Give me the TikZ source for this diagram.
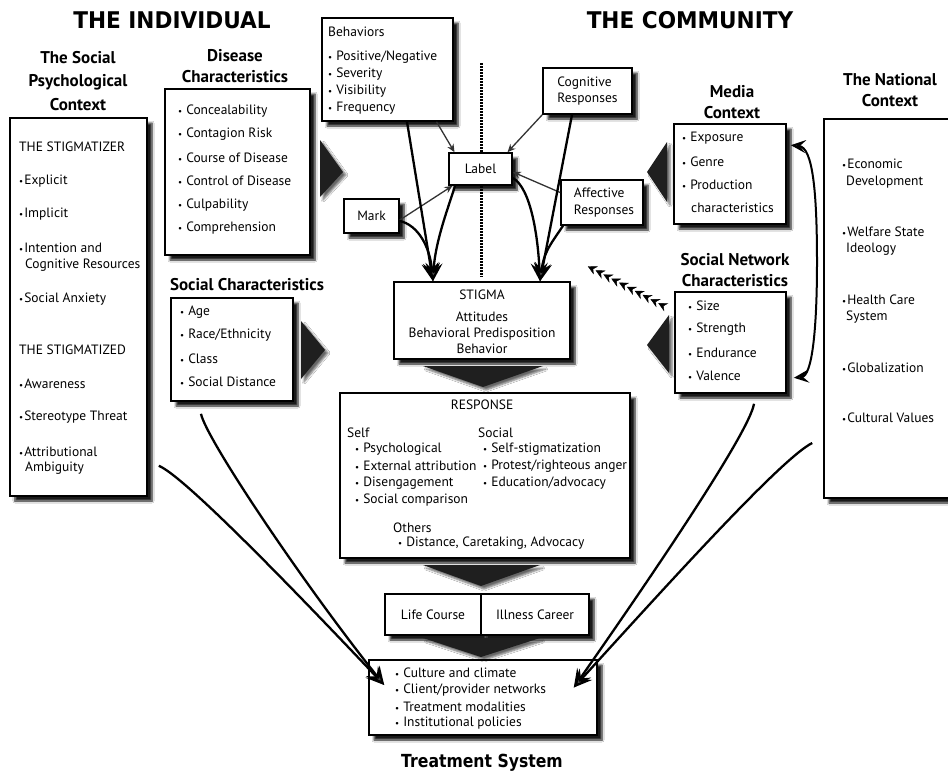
\documentclass[tikz,border=0pt]{standalone}
\usepackage{fontspec}
\setmainfont{PT Sans}
\newfontfamily\heavyfont{DejaVu Sans}
\usetikzlibrary{shadows.blur,arrows.meta,fit,decorations.markings}
\newcommand\bl{{\fontsize{9}{9}\selectfont\textbullet}\hspace{4pt}}
\newcommand\bt{{\fontsize{9}{9}\selectfont\textbullet}\hspace{1pt}}
\begin{document}
\begin{tikzpicture}[x=1pt,y=-1pt,
  box/.style={draw, line width=1.6pt, fill=white, inner sep=0pt,
    blur shadow={shadow xshift=5pt,shadow yshift=-5pt,shadow blur steps=6,shadow opacity=90}},
  txt/.style={anchor=west, inner sep=0pt, font=\fontsize{13.5}{16}\selectfont},
  ctxt/.style={inner sep=0pt, align=center, font=\fontsize{13.5}{16}\selectfont},
  ltxt/.style={inner sep=0pt, align=left, font=\fontsize{13.5}{16.5}\selectfont},
  ttl/.style={inner sep=0pt, align=center, font=\bfseries\fontsize{17}{21}\selectfont},
  head/.style={inner sep=0pt, font=\heavyfont\bfseries\fontsize{23}{26}\selectfont},
  tri/.style={fill=black!88, blur shadow={shadow xshift=3pt,shadow yshift=-3pt,shadow blur steps=5,shadow opacity=60}},
  big/.style={line width=2.3pt, -{Stealth[length=18pt,width=17pt,inset=7pt]}},
  thin/.style={line width=1.3pt, draw=black!80, -{Stealth[length=8pt,width=7pt]}},
  dbl/.style={line width=2pt, {Stealth[length=15pt,width=13pt,inset=6pt]}-{Stealth[length=15pt,width=13pt,inset=6pt]}}
]
\useasboundingbox (0,0) rectangle (948,777);
\fill[white] (0,0) rectangle (948,777);

% headings
\node[head] (hind) at (172,20) {\scalebox{0.94}[1]{THE INDIVIDUAL}};
\node[head] (hcom) at (690,20) {\scalebox{0.94}[1]{THE COMMUNITY}};

% dotted divider
\coordinate (dtop) at (481,63);
\coordinate (dbot) at (481,277);
\draw[line width=3pt, dash pattern=on 2pt off 1pt] (dtop) -- (dbot);

% titles
\node[ttl, font=\bfseries\fontsize{17}{23.5}\selectfont] (tspc) at (78,81) {The Social\\Psychological\\Context};
\node[ttl] (tdis) at (235,66) {Disease\\Characteristics};
\node[ttl] (tsoc) at (247,285) {Social Characteristics};
\node[ttl] (tmed) at (732,102) {Media\\Context};
\node[ttl] (tsn) at (735,270) {Social Network\\Characteristics};
\node[ttl] (tnat) at (890,90) {The National\\Context};
\node[head, font=\heavyfont\bfseries\fontsize{18}{20}\selectfont] (ttreat) at (482,763) {\scalebox{0.87}[1]{Treatment System}};

% boxes
\node[box, fit={(10,118) (147,496)}] (spc) {};
\node[box, fit={(165,89) (310,255)}] (dis) {};
\node[box, fit={(322,18) (453,121)}] (beh) {};
\node[box, fit={(344,199) (399,233)}] (mark) {};
\node[box, fit={(449,153) (512,185)}] (label) {};
\node[box, fit={(543,68) (632,114)}] (cog) {};
\node[box, fit={(561,180) (643,225)}] (aff) {};
\node[box, fit={(674,124) (786,224)}] (media) {};
\node[box, fit={(824,119) (965,498)}] (nat) {};
\node[box, fit={(394,282) (570,359)}] (stigma) {};
\node[box, fit={(340,393) (630,558)}] (resp) {};
\node[box, fit={(171,298) (293,401)}] (soc) {};
\node[box, fit={(675,292) (786,393)}] (sn) {};
\node[box, fit={(385,594) (481,635)}] (life) {};
\node[box, fit={(481,594) (589,635)}] (ill) {};
\node[box, fit={(369,660) (597,735)}] (treat) {};

% small box texts
\node[ctxt] (markt) at (mark.center) {Mark};
\node[ctxt] (labelt) at (label.center) {Label};
\node[ltxt] (cogt) at (cog.center) {Cognitive\\Responses};
\node[ltxt] (afft) at ([xshift=2pt]aff.center) {Affective\\Responses};
\node[ctxt] (lifet) at (life.center) {Life Course};
\node[ctxt] (illt) at (ill.center) {Illness Career};

% social psychological context
\node[txt] (sp1) at (19,147) {THE STIGMATIZER};
\node[txt] (sp2) at (19,181) {\bt Explicit};
\node[txt] (sp3) at (19,214) {\bt Implicit};
\node[txt] (sp4) at (19,248) {\bt Intention and};
\node[txt] (sp5) at (25,265) {Cognitive Resources};
\node[txt] (sp6) at (19,299) {\bt Social Anxiety};
\node[txt] (sp7) at (19,350) {THE STIGMATIZED};
\node[txt] (sp8) at (19,384) {\bt Awareness};
\node[txt] (sp9) at (19,417) {\bt Stereotype Threat};
\node[txt] (sp10) at (19,452) {\bt Attributional};
\node[txt] (sp11) at (25,468) {Ambiguity};

% disease
\foreach \t [count=\i] in {Concealability, Contagion Risk, Course of Disease, Control of Disease, Culpability, Comprehension}
  \node[txt] (dis\i) at (178,{111+(\i-1)*23.4}) {\bl \t};

% behaviors
\node[txt] (beh0) at (328,32) {Behaviors};
\foreach \t [count=\i] in {Positive/Negative, Severity, Visibility, Frequency}
  \node[txt] (beh\i) at (328,{57+(\i-1)*17}) {\bl \t};

% social characteristics
\foreach \t [count=\i] in {Age, Race/Ethnicity, Class, Social Distance}
  \node[txt] (soc\i) at (180,{312+(\i-1)*23.3}) {\bl \t};

% media
\foreach \t [count=\i] in {Exposure, Genre, Production}
  \node[txt] (med\i) at (682,{138+(\i-1)*23.4}) {\bl \t};
\node[txt] (med4) at (691,208) {characteristics};

% social network
\foreach \t [count=\i] in {Size, Strength, Endurance, Valence}
  \node[txt] (sn\i) at (688,{306+(\i-1)*23.3}) {\bl \t};

% national
\node[txt] (nat1) at (842,164) {\bt Economic};
\node[txt] (nat2) at (846,182) {Development};
\node[txt] (nat3) at (842,232) {\bt Welfare State};
\node[txt] (nat4) at (846,249) {Ideology};
\node[txt] (nat5) at (842,300) {\bt Health Care};
\node[txt] (nat6) at (846,317) {System};
\node[txt] (nat7) at (842,368) {\bt Globalization};
\node[txt] (nat8) at (842,418) {\bt Cultural Values};

% stigma
\node[ctxt] (sg1) at (482,295) {STIGMA};
\node[ctxt] (sg2) at (482,333) {Attitudes\\Behavioral Predisposition\\Behavior};

% response
\node[ctxt] (rh) at (482,405) {RESPONSE};
\node[txt] (rself) at (347,433) {Self};
\foreach \t [count=\i] in {Psychological, External attribution, Disengagement, Social comparison}
  \node[txt] (rs\i) at (355,{449+(\i-1)*17}) {\bl \t};
\node[txt] (rsoc) at (478,433) {Social};
\foreach \t [count=\i] in {Self-stigmatization, Protest/righteous anger, Education/advocacy}
  \node[txt] (ro\i) at (483,{449+(\i-1)*17}) {\bl \t};
\node[txt] (roth) at (393,528) {Others};
\node[txt] (rdist) at (398,543) {\bl Distance, Caretaking, Advocacy};

% treatment
\foreach \t [count=\i] in {Culture and climate, Client/provider networks, Treatment modalities, Institutional policies}
  \node[txt] (tr\i) at (395,{673+(\i-1)*16.8}) {\bl \t};

% big triangles
\fill[tri] (320,140) -- (343,172) -- (320,197) -- cycle;
\fill[tri] (301,321) -- (325,350) -- (301,379) -- cycle;
\fill[tri] (667,142) -- (647,172) -- (667,202) -- cycle;
\fill[tri] (669,315) -- (647,345) -- (669,373) -- cycle;
\fill[tri] (423,366) -- (543,366) -- (483,387) -- cycle;
\fill[tri] (423,565) -- (540,565) -- (481,586) -- cycle;
\fill[tri] (423,638) -- (540,638) -- (481,657) -- cycle;

% thin arrows into Label
\draw[thin] ([xshift=49pt]beh.south) -- ([xshift=-26pt]label.north);
\draw[thin] ([yshift=-4pt]mark.east) -- ([xshift=-28pt]label.south);
\draw[thin] (cog.south west) -- ([xshift=27pt]label.north);
\draw[thin] ([yshift=10pt]aff.west) -- ([yshift=-3pt]label.east);

% thick arrows into STIGMA
\draw[big] ([xshift=19.5pt]beh.south) -- ([xshift=-49pt]stigma.north);
\draw[big] ([yshift=-5pt]mark.east) .. controls +(18,4) and +(-3,-35) .. ([xshift=-49pt]stigma.north);
\draw[big] ([xshift=-25.5pt]label.south) .. controls +(-6,20) and +(2,-40) .. ([xshift=-49pt]stigma.north);
\draw[big] ([xshift=-15.5pt]cog.south) -- ([xshift=58pt]stigma.north);
\draw[big] ([yshift=-9pt]label.east) .. controls +(18,10) and +(-2,-45) .. ([xshift=58pt]stigma.north);
\draw[big] ([xshift=-39pt]aff.south) .. controls +(-12,18) and +(4,-30) .. ([xshift=58pt]stigma.north);

% chain of small arrowheads from social network toward stigma
\path[postaction={decorate}, decoration={markings,
   mark=between positions 0.05 and 1 step 0.1 with {\arrow[black]{Stealth[length=9pt,width=9pt]}}}]
   ([xshift=-12pt,yshift=-14pt]sn.north west) -- ([xshift=13pt,yshift=17pt]stigma.north east);

% media <-> social network
\coordinate (dmid) at (817,262);
\draw[dbl] ([xshift=4pt,yshift=-22pt]media.north east) .. controls +(22,2) and +(0,-70) .. (dmid)
   .. controls +(0,70) and +(18,-2) .. ([xshift=7pt,yshift=16pt]sn.south east);

% arrows to treatment
\draw[big] ([xshift=11pt,yshift=31pt]spc.south east) .. controls +(25,10) and +(-90,-95) .. ([xshift=16pt,yshift=12.5pt]treat.west);
\draw[big] ([xshift=-31pt,yshift=-12pt]soc.south) .. controls +(5,25) and +(-80,-100) .. ([xshift=16pt,yshift=12.5pt]treat.west);
\draw[big] ([xshift=23.5pt,yshift=-10pt]sn.south) .. controls +(-5,30) and +(70,-100) .. ([xshift=-24pt,yshift=10pt]treat.east);
\draw[big] ([xshift=-11pt,yshift=-134.5pt]nat.west) .. controls +(-30,15) and +(100,-110) .. ([xshift=-24pt,yshift=10pt]treat.east);
\end{tikzpicture}
\end{document}
